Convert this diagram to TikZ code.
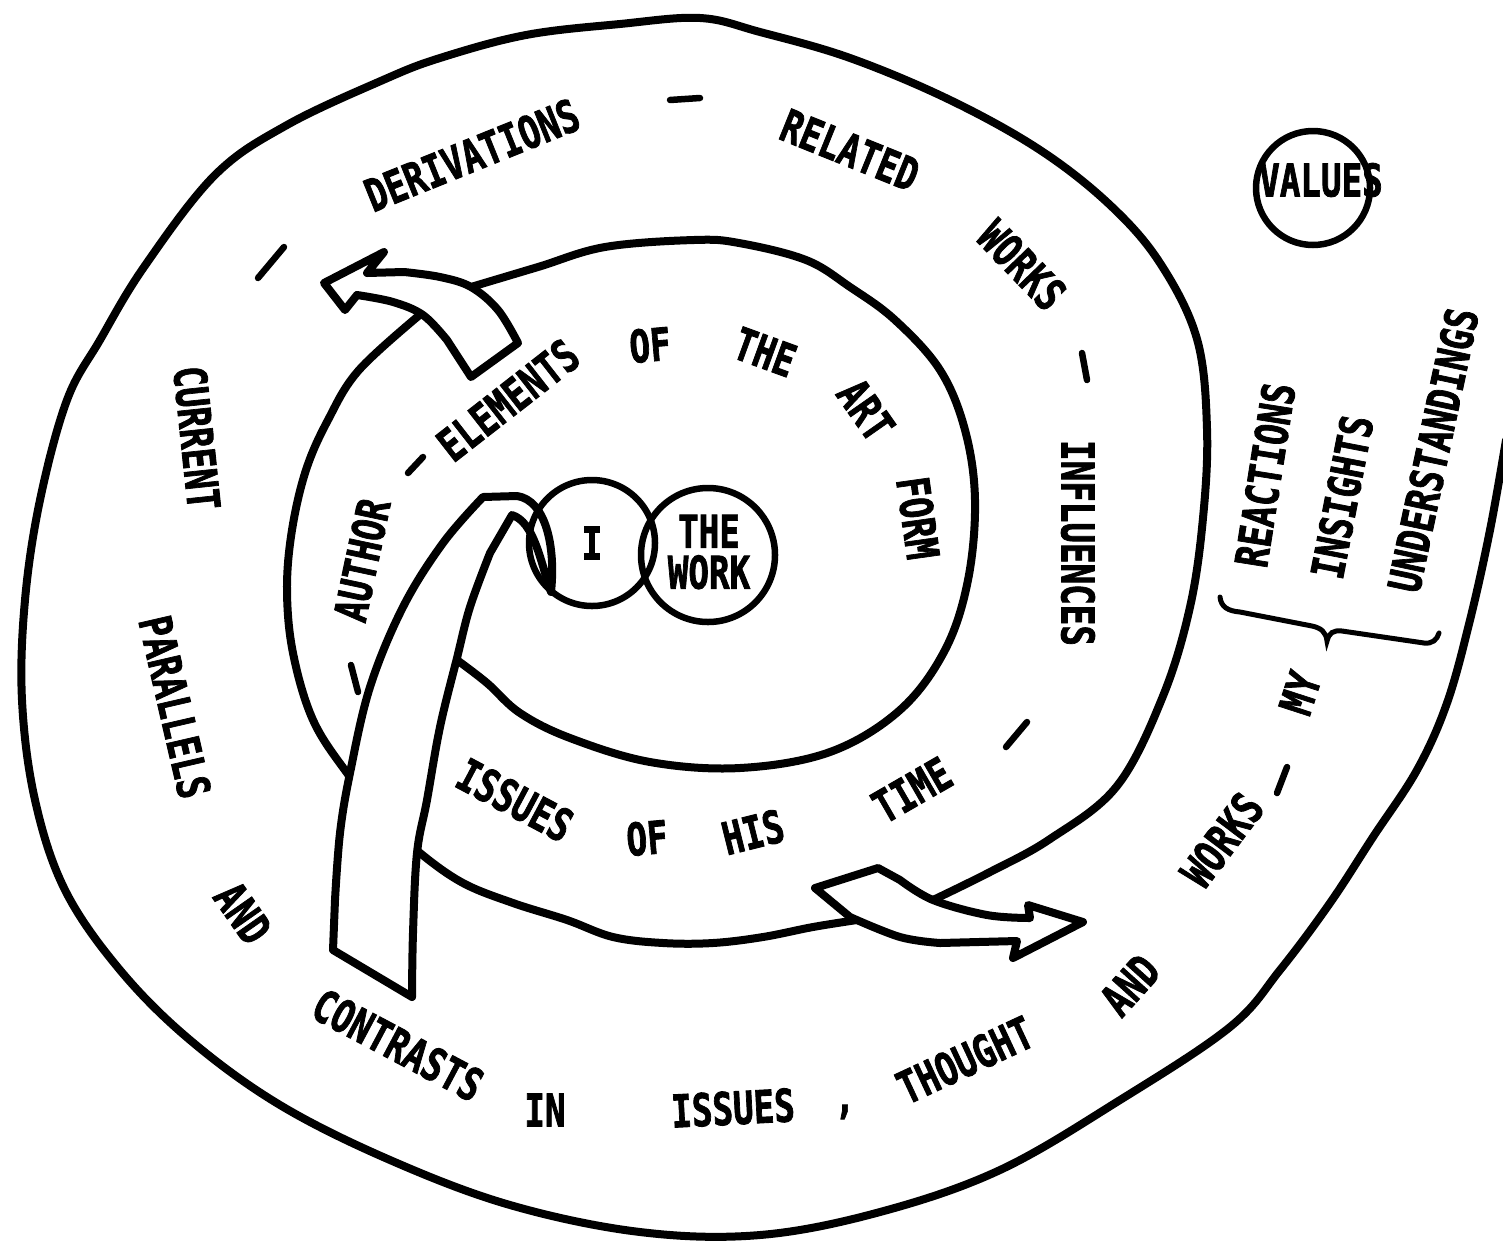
\documentclass[tikz,border=0pt]{standalone}
\usepackage{fontspec}
\newfontfamily\lett{DejaVu Sans Mono}[FakeBold=2]
\newcommand\sq[1]{\scalebox{0.76}[1]{#1}}
\begin{document}
\begin{tikzpicture}[x=1pt,y=-1pt]
\tikzset{
  spiral/.style={line width=8pt, line join=round, line cap=round},
  lbl/.style={font={\lett\bfseries\fontsize{45}{41}\selectfont}, inner sep=0pt},
  stroke/.style={line width=6.5pt, line cap=round},
  ring/.style={draw, circle, line width=6.5pt, inner sep=0pt},
  band/.style={line width=8pt, line join=round, fill=white},
}
\fill[white] (0,0) rectangle (1503,1240);
\useasboundingbox (0,0) rectangle (1503,1240);

% outer spiral
\draw[spiral] plot[smooth, tension=0.6] coordinates {(933,900) (990,872) (1050,839) (1117,786) (1163,696) (1190,607) (1203,518) (1207,429) (1197,339) (1160,263) (1110,205) (1040,150) (950,100) (850,58) (760,32) (700,18) (620,24) (526,35) (440,58) (383,80) (287,125) (215,175) (144,267) (100,340) (67,400) (40,500) (25,600) (22,700) (35,800) (65,890) (120,970) (190,1040) (280,1105) (390,1160) (510,1205) (640,1232) (760,1235) (880,1212) (1000,1170) (1120,1100) (1230,1027) (1280,970) (1330,903) (1373,837) (1417,770) (1447,703) (1470,620) (1490,530) (1506,440)};

% inner loop
\draw[spiral] plot[smooth, tension=0.6] coordinates {(471,287) (538,267) (605,247) (694,240) (739,243) (806,260) (850,287) (895,320) (940,370) (965,430) (975,500) (968,580) (945,650) (900,710) (830,752) (740,768) (650,762) (570,738) (520,713) (487,683) (457,660)};

% second boundary
\draw[spiral] plot[smooth, tension=0.6] coordinates {(422,313) (359,370) (328,420) (306,470) (292,530) (287,590) (293,653) (313,720) (347,773) (385,820) (420,853) (463,883) (513,903) (567,920) (613,937) (663,943) (713,943) (763,937) (813,927) (857,920)};

% rising ribbon
\draw[band] (333,950) -- plot[smooth,tension=0.6] coordinates {(335,900) (340,833) (350,773) (370,687) (403,607) (443,543) (483,497)} -- (517,496) .. controls (545,500) and (556,545) .. (551,592) .. controls (540,560) and (534,522) .. (512,515) -- plot[smooth, tension=0.6] coordinates {(490,553) (470,607) (457,658) (440,727) (427,800) (417,853) (413,933) (412,997)} -- cycle;

% upper-left arrow
\draw[band] (324,283) -- (384,252) -- (367,273) -- plot[smooth,tension=0.6] coordinates {(404,272) (440,277) (471,287) (498,310) (518,343)} -- (471,377) -- plot[smooth,tension=0.6] coordinates {(447,340) (423,315) (393,302) (357,295)} -- (345,310) -- cycle;

% lower-right arrow
\draw[band] (815,888) -- (878,868) -- plot[smooth,tension=0.6] coordinates {(900,880) (933,900) (987,915) (1030,918)} -- (1028,905) -- (1083,922) -- (1013,958) -- (1017,941) -- plot[smooth,tension=0.6] coordinates {(940,943) (900,937) (850,917)} -- cycle;

% circles
\node[ring, lbl, minimum size=126pt] (icirc) at (592,543) {\sq{I}};
\node[ring, minimum size=134pt] (wcirc) at (708,555) {};
\node[lbl, align=center] (work) at (709,552) {\sq{THE}\\\sq{WORK}};
\node[ring, minimum size=114pt] (valc) at (1313,188) {};
\node[lbl] (values) at (1321,180) {\sq{VALUES}};

% brace
\draw[stroke, line width=5pt] (1220,597) .. controls (1221,607) and (1228,611) .. (1240,612) -- (1312,626) .. controls (1321,628) and (1326,632) .. (1327,641) .. controls (1329,633) and (1333,630) .. (1342,631) -- (1424,643) .. controls (1432,644) and (1437,640) .. (1439,633);

% dashes
\draw[stroke] (670,100) -- (700,98);
\draw[stroke] (258,278) -- (284,247);
\draw[stroke] (1082,353) -- (1087,380);
\draw[stroke] (1006,747) -- (1027,722);
\draw[stroke] (351,665) -- (358,692);
\draw[stroke] (408,473) -- (423,457);
\draw[stroke] (1277,793) -- (1287,767);

% labels
\node[lbl, rotate=22] (derivations) at (472,155) {\sq{DERIVATIONS}};
\node[lbl, rotate=-22] (related) at (850,150) {\sq{RELATED}};
\node[lbl, rotate=-46] (works1) at (1022,265) {\sq{WORKS}};
\node[lbl, rotate=-90] (influences) at (1078,543) {\sq{INFLUENCES}};
\node[lbl, rotate=30] (time) at (912,790) {\sq{TIME}};
\node[lbl, rotate=14] (his) at (753,832) {\sq{HIS}};
\node[lbl, rotate=5] (of1) at (647,838) {\sq{OF}};
\node[lbl, rotate=-28] (issues1) at (515,800) {\sq{ISSUES}};
\node[lbl, rotate=78] (author) at (362,560) {\sq{AUTHOR}};
\node[lbl, rotate=38] (elements) at (508,400) {\sq{ELEMENTS}};
\node[lbl, rotate=5] (of2) at (650,345) {\sq{OF}};
\node[lbl, rotate=-20] (the) at (765,352) {\sq{THE}};
\node[lbl, rotate=-55] (art) at (866,410) {\sq{ART}};
\node[lbl, rotate=-82] (form) at (918,518) {\sq{FORM}};
\node[lbl, rotate=-84] (current) at (197,438) {\sq{CURRENT}};
\node[lbl, rotate=-77] (parallels) at (175,707) {\sq{PARALLELS}};
\node[lbl, rotate=-55] (and1) at (243,913) {\sq{AND}};
\node[lbl, rotate=-28] (contrasts) at (398,1045) {\sq{CONTRASTS}};
\node[lbl] (in) at (545,1110) {\sq{IN}};
\node[lbl, rotate=3] (issues2) at (733,1108) {\sq{ISSUES}};
\node[lbl] (comma) at (845,1112) {\sq{,}};
\node[lbl, rotate=25] (thought) at (965,1060) {\sq{THOUGHT}};
\node[lbl, rotate=48] (and2) at (1130,985) {\sq{AND}};
\node[lbl, rotate=53] (works2) at (1222,840) {\sq{WORKS}};
\node[lbl, rotate=72] (my) at (1300,693) {\sq{MY}};
\node[lbl, rotate=81] (reactions) at (1265,475) {\sq{REACTIONS}};
\node[lbl, rotate=79] (insights) at (1342,497) {\sq{INSIGHTS}};
\node[lbl, rotate=78] (understandings) at (1433,450) {\sq{UNDERSTANDINGS}};
\end{tikzpicture}
\end{document}
